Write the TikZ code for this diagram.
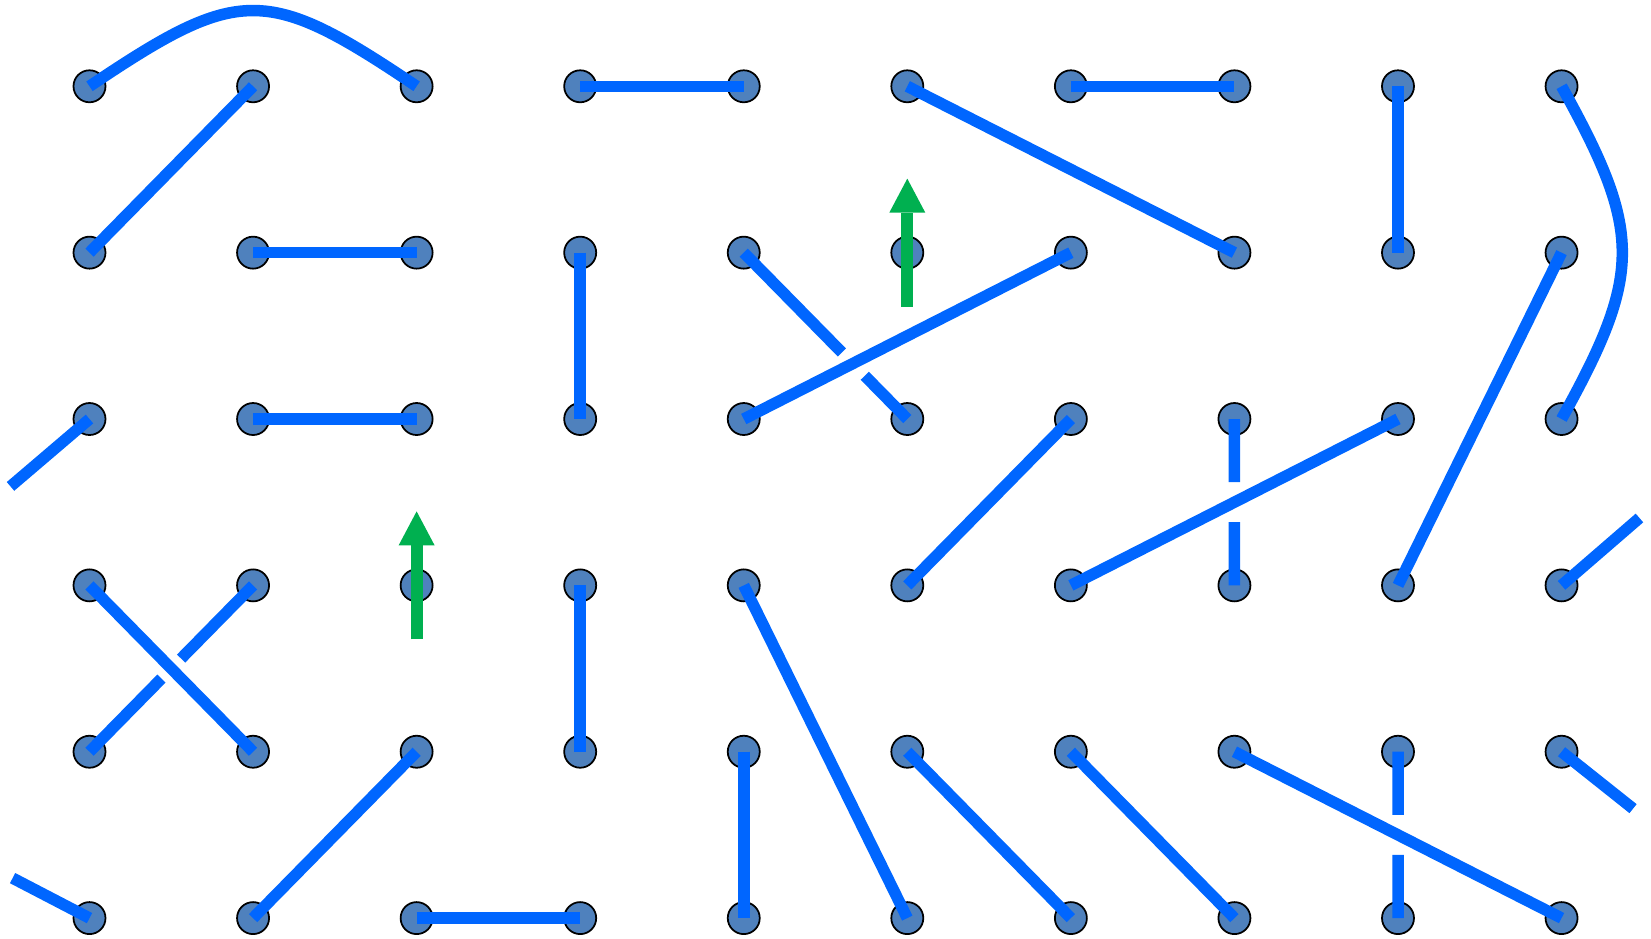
\documentclass[tikz,border=0pt]{standalone}
\usepackage{tikz}
\usetikzlibrary{arrows.meta, calc}
\definecolor{linkblue}{HTML}{0066FF}
\definecolor{dotblue}{HTML}{4F81BD}
\definecolor{movegreen}{HTML}{00B050}
\tikzstyle{dot}  = [circle, minimum size=3.2mm, inner sep=0pt, draw=black,
    line width=0.5pt, fill=dotblue]
\tikzstyle{link} = [line width=1.15mm, draw=linkblue]
\tikzstyle{move} = [line width=1.2mm, draw=movegreen,
    -{Triangle[width=3.6mm, length=3.4mm, line width=0pt]}]

\begin{document}
\begin{tikzpicture}
    \useasboundingbox (0,0) rectangle (16.51,-9.39);
    % grid of dots
    \foreach \c in {1,...,10}
        \foreach \r in {1,...,6}
            \node (d\c-\r) [dot] at ({0.895+(\c-1)*1.6356}, {-0.863-(\r-1)*1.6636}) {};

    % loose ends and green moves
    \coordinate (outL3) at ($(d1-3)+(-0.79,-0.674)$);
    \coordinate (outR4) at ($(d10-4)+(0.779,0.674)$);
    \coordinate (outR5) at ($(d10-5)+(0.715,-0.569)$);
    \coordinate (outL6) at ($(d1-6)+(-0.769,0.4)$);
    \coordinate (g1a) at ($(d6-2)+(0,-0.54)$);
    \coordinate (g1b) at ($(d6-2)+(0,0.74)$);
    \coordinate (g2a) at ($(d3-4)+(0,-0.54)$);
    \coordinate (g2b) at ($(d3-4)+(0,0.74)$);

    \draw [link] (d1-1.center) .. controls +(1.50,1.01) and +(-1.50,1.01) .. (d3-1.center);
    \draw [link] (d10-1.center) .. controls +(0.81,-1.46) and +(0.81,1.46) .. (d10-3.center);
    \draw [link] (d2-1.center) -- (d1-2.center);
    \draw [link] (d2-2.center) -- (d3-2.center);
    \draw [link] (d4-1.center) -- (d5-1.center);
    \draw [link] (d6-1.center) -- (d8-2.center);
    \draw [link] (d7-1.center) -- (d8-1.center);
    \draw [link] (d9-1.center) -- (d9-2.center);
    \draw [link] (d4-2.center) -- (d4-3.center);
    \draw [link] (d5-2.center) -- ($(d5-2.center)!0.60!(d6-3.center)$)
                 ($(d5-2.center)!0.74!(d6-3.center)$) -- (d6-3.center);
    \draw [link] (d5-3.center) -- (d7-2.center);
    \draw [link] (d1-3.center) -- (outL3);
    \draw [link] (d2-3.center) -- (d3-3.center);
    \draw [link] (d1-4.center) -- (d2-5.center);
    \draw [link] (d2-4.center) -- ($(d2-4.center)!0.44!(d1-5.center)$)
                 ($(d2-4.center)!0.56!(d1-5.center)$) -- (d1-5.center);
    \draw [link] (d4-4.center) -- (d4-5.center);
    \draw [link] (d7-3.center) -- (d6-4.center);
    \draw [link] (d8-3.center) -- ($(d8-3.center)!0.38!(d8-4.center)$)
                 ($(d8-3.center)!0.62!(d8-4.center)$) -- (d8-4.center);
    \draw [link] (d9-3.center) -- (d7-4.center);
    \draw [link] (d10-2.center) -- (d9-4.center);
    \draw [link] (d10-4.center) -- (outR4);
    \draw [link] (d5-4.center) -- (d6-6.center);
    \draw [link] (d5-5.center) -- (d5-6.center);
    \draw [link] (d6-5.center) -- (d7-6.center);
    \draw [link] (d7-5.center) -- (d8-6.center);
    \draw [link] (d8-5.center) -- (d10-6.center);
    \draw [link] (d9-5.center) -- ($(d9-5.center)!0.38!(d9-6.center)$)
                 ($(d9-5.center)!0.62!(d9-6.center)$) -- (d9-6.center);
    \draw [link] (d10-5.center) -- (outR5);
    \draw [link] (outL6) -- (d1-6.center);
    \draw [link] (d2-6.center) -- (d3-5.center);
    \draw [link] (d3-6.center) -- (d4-6.center);

    \draw [move] (g1a) -- (g1b);
    \draw [move] (g2a) -- (g2b);
\end{tikzpicture}
\end{document}
